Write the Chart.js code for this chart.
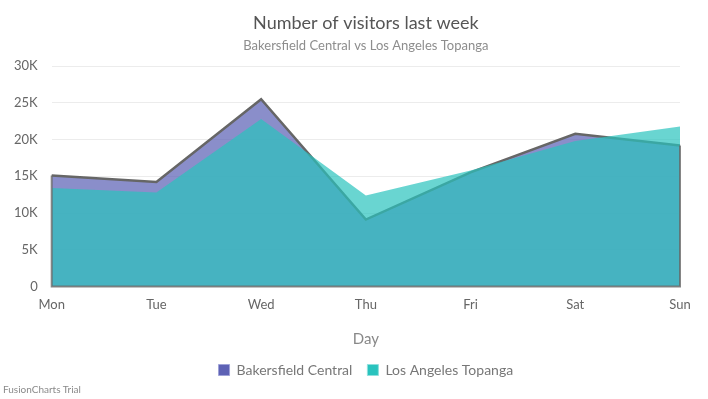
<!DOCTYPE html>
<html>
<head>
<meta charset="utf-8">
<script src="https://cdn.jsdelivr.net/npm/chart.js@4.4.1/dist/chart.umd.min.js"></script>
<style>
    html, body { margin: 0; padding: 0; background: #fff; }
    #wrap { position: relative; width: 708px; height: 399px; }
    #trial {
        position: absolute; left: 3px; top: 383px;
        font: 10px Lato, sans-serif; color: #8a8a8a;
    }
</style>
</head>
<body>
<div id="wrap">
    <canvas id="myChart" width="708" height="399"></canvas>
    <div id="trial">FusionCharts Trial</div>
</div>
<script>
// Visitors per day
const days = ['Mon', 'Tue', 'Wed', 'Thu', 'Fri', 'Sat', 'Sun'];
const bakersfield = [15123, 14233, 25507, 9110, 15529, 20803, 19202];
const topanga = [13400, 12800, 22800, 12400, 15800, 19800, 21800];

const FONT = 'Lato, "Noto Sans", sans-serif';

// Outline the sides and base of the first area, like the original does
const areaEdges = {
    id: 'areaEdges',
    afterDatasetsDraw(chart) {
        const meta = chart.getDatasetMeta(0);
        const pts = meta.data;
        if (!pts.length) return;
        const y0 = chart.scales.y.getPixelForValue(0);
        const first = pts[0];
        const last = pts[pts.length - 1];
        const ctx = chart.ctx;
        ctx.save();
        ctx.strokeStyle = 'rgba(102,102,102,0.8)';
        ctx.lineWidth = 2;
        ctx.beginPath();
        ctx.moveTo(first.x, first.y);
        ctx.lineTo(first.x, y0);
        ctx.lineTo(last.x, y0);
        ctx.lineTo(last.x, last.y);
        ctx.stroke();
        ctx.restore();
    }
};

const solid = ['#5D62B5', '#29C3BE'];

new Chart(document.getElementById('myChart').getContext('2d'), {
    type: 'line',
    data: {
        labels: days,
        datasets: [{
            label: 'Bakersfield Central',
            data: bakersfield,
            backgroundColor: 'rgba(93,98,181,0.72)',
            borderColor: 'rgba(102,102,102,1)',
            borderWidth: 2.5,
            pointRadius: 0,
            tension: 0,
            fill: 'origin',
            order: 2
        }, {
            label: 'Los Angeles Topanga',
            data: topanga,
            backgroundColor: 'rgba(41,195,190,0.7)',
            borderColor: 'rgba(41,195,190,0)',
            borderWidth: 0,
            pointRadius: 0,
            tension: 0,
            fill: 'origin',
            order: 1
        }]
    },
    options: {
        responsive: false,
        animation: false,
        layout: { padding: { left: 0, right: 28, bottom: 12 } },
        plugins: {
            title: {
                display: true,
                fullSize: false,
                text: 'Number of visitors last week',
                color: '#555',
                font: { family: FONT, size: 18, weight: 'normal' },
                padding: { top: 12, bottom: 4 }
            },
            subtitle: {
                display: true,
                fullSize: false,
                text: 'Bakersfield Central vs Los Angeles Topanga',
                color: '#8d8d8d',
                font: { family: FONT, size: 13 },
                padding: { bottom: 13 }
            },
            legend: {
                position: 'bottom',
                fullSize: false,
                labels: {
                    color: '#777',
                    font: { family: FONT, size: 14 },
                    boxWidth: 11,
                    boxHeight: 11,
                    padding: 15,
                    sort: (a, b) => a.datasetIndex - b.datasetIndex,
                    generateLabels(chart) {
                        const items = Chart.defaults.plugins.legend.labels.generateLabels(chart);
                        items.forEach(it => {
                            it.fillStyle = solid[it.datasetIndex];
                            it.strokeStyle = '#9fa3d8';
                            it.lineWidth = 1;
                            if (it.datasetIndex === 1) it.strokeStyle = '#8fe0dd';
                        });
                        return items;
                    }
                }
            },
            tooltip: { enabled: false }
        },
        scales: {
            x: {
                offset: false,
                grid: { display: false },
                border: { display: false },
                ticks: { color: '#666', font: { family: FONT, size: 13 }, padding: 3 },
                title: {
                    display: true,
                    text: 'Day',
                    color: '#888',
                    font: { family: FONT, size: 15 },
                    padding: { top: 14, bottom: 0 }
                }
            },
            y: {
                min: 0,
                max: 30000,
                ticks: {
                    stepSize: 5000,
                    color: '#666',
                    font: { family: FONT, size: 13 },
                    padding: 14,
                    callback: v => v === 0 ? '0' : (v / 1000) + 'K'
                },
                grid: { color: '#ececec', drawTicks: false },
                border: { display: false }
            }
        }
    },
    plugins: [areaEdges]
});
</script>
</body>
</html>
